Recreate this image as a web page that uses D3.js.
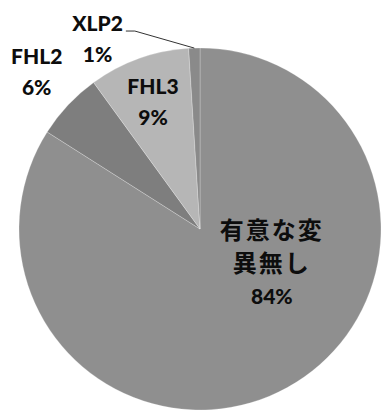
<!DOCTYPE html>
<html>
<head>
<meta charset="utf-8">
<script src="https://cdn.jsdelivr.net/npm/d3@7"></script>
<style>
  html, body { margin: 0; padding: 0; background: #fff; }
  svg { display: block; }
</style>
</head>
<body>
<svg id="chart" width="382" height="412"></svg>
<script>
// Share of variants found (percent of cases)
const categories = ["有意な変異無し", "FHL2", "FHL3", "XLP2"];
const values = [84, 6, 9, 1];
const labelLines = [["有意な変", "異無し"], ["FHL2"], ["FHL3"], ["XLP2"]];
const sliceColors = ["#8f8f8f", "#7e7e7e", "#b6b6b6", "#8a8a8a"];

const width = 382, height = 412;
const cx = 200, cy = 229, radius = 181;

const svg = d3.select("#chart");
const g = svg.append("g").attr("transform", `translate(${cx},${cy})`);

const data = categories.map((c, i) => ({ name: c, value: values[i], lines: labelLines[i], color: sliceColors[i] }));

const pie = d3.pie().value(d => d.value).sort(null);
const arcs = pie(data);
const arc = d3.arc().innerRadius(0).outerRadius(radius);

g.selectAll("path.slice")
  .data(arcs)
  .join("path")
  .attr("class", "slice")
  .attr("d", arc)
  .attr("fill", d => d.data.color)
  .attr("stroke", "rgba(255,255,255,0.3)")
  .attr("stroke-width", 0.8);

// label placement: polar position (degrees clockwise from 12 o'clock, fraction of radius)
const labelPlacement = [
  { angle: 115.6, r: 0.44, cjk: true },
  { angle: 313.8, r: 1.25 },
  { angle: 339.6, r: 0.745 },
  { angle: 331.6, r: 1.19, leader: true }
];

const pct = d => Math.round(d.value / d3.sum(values) * 100) + "%";

arcs.forEach((a, i) => {
  const p = labelPlacement[i];
  const t = p.angle * Math.PI / 180;
  const x = Math.sin(t) * radius * p.r;
  const y = -Math.cos(t) * radius * p.r;
  const lines = a.data.lines.concat([pct(a.data)]);
  const lh = p.cjk ? 33 : 31;
  const y0 = y - (lines.length - 1) * lh / 2;

  const text = g.append("text")
    .attr("text-anchor", "middle")
    .attr("fill", "#0d0d0d");
  lines.forEach((ln, k) => {
    const isCjk = /[^\x00-\x7F]/.test(ln);
    text.append("tspan")
      .attr("x", x)
      .attr("y", y0 + k * lh)
      .attr("dy", "0.35em")
      .attr("font-family", isCjk ? "'Noto Sans CJK JP', sans-serif" : "Lato, 'Open Sans', sans-serif")
      .attr("font-weight", isCjk ? 700 : 900)
      .attr("font-size", isCjk ? 24 : 21)
      .attr("letter-spacing", isCjk ? 2 : 0)
      .text(ln);
  });

  if (p.leader) {
    // leader from the label's first line to the middle of the slice's outer edge
    const mid = (a.startAngle + a.endAngle) / 2;
    const ex = Math.sin(mid) * radius, ey = -Math.cos(mid) * radius;
    const bbox = text.node().getBBox();
    const sx = bbox.x + bbox.width + 3;
    const sy = y0 + 7;
    g.append("path")
      .attr("d", `M${sx},${sy}H${sx + 9}L${ex},${ey}`)
      .attr("fill", "none")
      .attr("stroke", "#333")
      .attr("stroke-width", 1);
  }
});
</script>
</body>
</html>
